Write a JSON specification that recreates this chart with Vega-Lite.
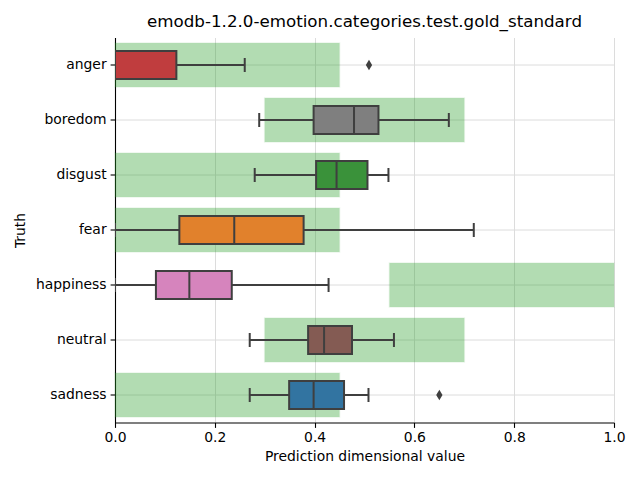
{
  "$schema": "https://vega.github.io/schema/vega-lite/v6.json",
  "width": 499,
  "height": 385,
  "autosize": {"type": "none"},
  "padding": {"left": 115, "top": 37.5, "right": 26, "bottom": 57.5},
  "background": "white",
  "title": {"text": "emodb-1.2.0-emotion.categories.test.gold_standard", "font": "DejaVu Sans", "fontSize": 16.7, "fontWeight": "normal", "color": "black", "anchor": "middle", "offset": 7},
  "config": {
    "view": {"stroke": null},
    "axis": {"domainColor": "black", "tickColor": "black", "tickSize": 4.9, "tickWidth": 1.1, "domainWidth": 1.1, "labelFont": "DejaVu Sans", "labelFontSize": 13.9, "labelColor": "black", "titleFont": "DejaVu Sans", "titleFontSize": 13.9, "titleFontWeight": "normal", "titleColor": "black", "gridColor": "#dcdcdc", "gridWidth": 1, "labelFlush": false}
  },
  "datasets": {
    "stats": [
      {"category": "anger", "lower": 0, "q1": 0, "median": 0, "q3": 0.123, "upper": 0.26, "range_lo": 0, "range_hi": 0.45},
      {"category": "boredom", "lower": 0.289, "q1": 0.398, "median": 0.479, "q3": 0.528, "upper": 0.669, "range_lo": 0.3, "range_hi": 0.7},
      {"category": "disgust", "lower": 0.28, "q1": 0.403, "median": 0.444, "q3": 0.506, "upper": 0.548, "range_lo": 0, "range_hi": 0.45},
      {"category": "fear", "lower": 0, "q1": 0.129, "median": 0.239, "q3": 0.378, "upper": 0.719, "range_lo": 0, "range_hi": 0.45},
      {"category": "happiness", "lower": 0, "q1": 0.082, "median": 0.149, "q3": 0.234, "upper": 0.428, "range_lo": 0.55, "range_hi": 1.0},
      {"category": "neutral", "lower": 0.27, "q1": 0.387, "median": 0.419, "q3": 0.475, "upper": 0.559, "range_lo": 0.3, "range_hi": 0.7},
      {"category": "sadness", "lower": 0.27, "q1": 0.349, "median": 0.398, "q3": 0.459, "upper": 0.508, "range_lo": 0, "range_hi": 0.45}
    ],
    "outliers": [
      {"category": "anger", "value": 0.509},
      {"category": "sadness", "value": 0.65}
    ]
  },
  "encoding": {
    "y": {"field": "category", "type": "nominal", "title": "Truth",
      "scale": {"domain": ["anger", "boredom", "disgust", "fear", "happiness", "neutral", "sadness"], "paddingInner": 0, "paddingOuter": 0},
      "axis": {"grid": true, "titlePadding": 8, "labelPadding": 4}}
  },
  "layer": [
    {
      "data": {"name": "stats"},
      "mark": {"type": "bar", "height": {"band": 0.8}, "color": "#2ca02c", "opacity": 0.36, "stroke": "#2ca02c", "strokeOpacity": 0.25, "strokeWidth": 1.5},
      "encoding": {
        "x": {"field": "range_lo", "type": "quantitative", "title": "Prediction dimensional value",
          "scale": {"domain": [0, 1], "nice": false, "zero": false},
          "axis": {"values": [0, 0.2, 0.4, 0.6, 0.8, 1.0], "format": ".1f", "grid": true, "labelPadding": 3, "titlePadding": 5}},
        "x2": {"field": "range_hi"}
      }
    },
    {
      "data": {"name": "stats"},
      "mark": {"type": "rule", "color": "#3f3f3f", "strokeWidth": 2, "clip": true},
      "encoding": {
        "x": {"field": "lower", "type": "quantitative"},
        "x2": {"field": "upper"}
      }
    },
    {
      "data": {"name": "stats"},
      "mark": {"type": "tick", "color": "#3f3f3f", "size": 14, "thickness": 2, "orient": "vertical", "opacity": 1, "clip": true},
      "encoding": {"x": {"field": "lower", "type": "quantitative"}}
    },
    {
      "data": {"name": "stats"},
      "mark": {"type": "tick", "color": "#3f3f3f", "size": 14, "thickness": 2, "orient": "vertical", "opacity": 1, "clip": true},
      "encoding": {"x": {"field": "upper", "type": "quantitative"}}
    },
    {
      "data": {"name": "stats"},
      "mark": {"type": "bar", "height": {"band": 0.51}, "stroke": "#3f3f3f", "strokeWidth": 2, "opacity": 1, "clip": true},
      "encoding": {
        "x": {"field": "q1", "type": "quantitative"},
        "x2": {"field": "q3"},
        "color": {"field": "category", "type": "nominal", "legend": null,
          "scale": {"domain": ["anger", "boredom", "disgust", "fear", "happiness", "neutral", "sadness"],
            "range": ["#c03d3e", "#7f7f7f", "#3a923a", "#e1812c", "#d684bd", "#845b53", "#3274a1"]}}
      }
    },
    {
      "data": {"name": "stats"},
      "mark": {"type": "tick", "color": "#3f3f3f", "size": 28, "thickness": 2, "orient": "vertical", "opacity": 1, "clip": true},
      "encoding": {"x": {"field": "median", "type": "quantitative"}}
    },
    {
      "data": {"name": "outliers"},
      "mark": {"type": "point", "shape": "M0,-1L0.6,0L0,1L-0.6,0Z", "filled": true, "color": "#3f3f3f", "size": 110, "opacity": 1},
      "encoding": {"x": {"field": "value", "type": "quantitative"}}
    }
  ]
}
